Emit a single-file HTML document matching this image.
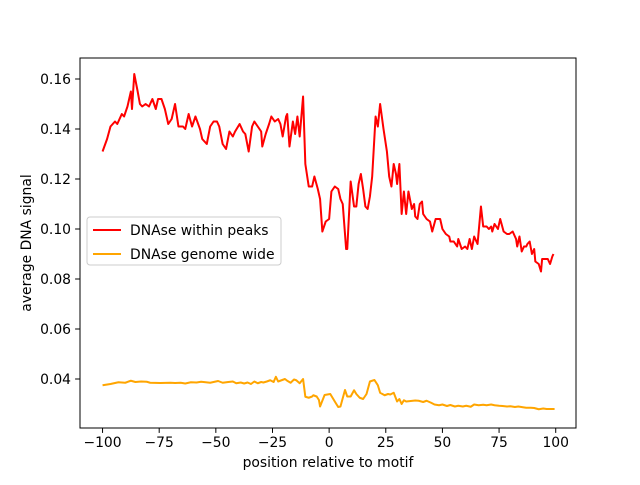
<!DOCTYPE html>
<html><head><meta charset="utf-8"><style>
body{margin:0;background:#fff;}
svg text{font-family:"DejaVu Sans","Liberation Sans",sans-serif;}
</style></head><body>
<svg id="chart" width="640" height="480" xmlns="http://www.w3.org/2000/svg"></svg>
<script>
const redX=[-100,-98,-96.5,-94.5,-93.5,-91.5,-90.5,-89,-87.5,-87,-86,-84.5,-83.5,-82.5,-81,-79.5,-79,-78,-76.5,-75.5,-74,-72.5,-71,-69.5,-68,-66.5,-64.5,-63.5,-62,-60.5,-59,-57,-56,-54,-52.5,-51,-49.5,-48.5,-47,-45.5,-44,-42.5,-41.5,-39.5,-38,-37,-35.5,-34,-33,-31.5,-30,-29.5,-28,-26.5,-25.5,-24,-22.5,-21.5,-20.5,-19,-18.5,-17.5,-16,-15,-14,-13,-11.5,-10.5,-9,-7.5,-6.5,-5,-4,-3,-1.5,0,1,2.5,4,5,6,7.5,8,9.5,11,12,13,14,15,16,17,18,19,20.5,21.5,22.5,24,25.5,26.5,27.5,28.5,29.5,30,31,32,33,34,35,36.5,37.5,38,39,40,41,41.5,43,44.5,45.5,47,49,50,51.5,53,53.5,55,56.5,57,58.5,60,61,62,63,64,65.5,67,68,69.5,70.5,71.5,72,73,74.5,75.5,77,78.5,79.5,81,82.5,83,84,85,86,87,87.5,88.5,89.5,90.5,91,92.5,93.5,94,95.5,96.5,97.5,98.5,99];
const redY=[.131,.136,.141,.143,.142,.146,.145,.149,.155,.148,.162,.155,.150,.149,.150,.149,.150,.152,.148,.152,.152,.148,.142,.144,.150,.141,.141,.140,.146,.141,.145,.140,.136,.134,.141,.143,.143,.141,.134,.132,.139,.137,.139,.142,.139,.138,.131,.141,.143,.141,.139,.133,.138,.142,.145,.143,.144,.142,.137,.145,.146,.133,.143,.138,.145,.137,.153,.126,.117,.117,.121,.116,.112,.099,.103,.104,.115,.117,.116,.112,.110,.092,.092,.119,.109,.109,.118,.122,.116,.109,.108,.113,.121,.145,.141,.150,.140,.131,.121,.117,.126,.122,.118,.126,.106,.115,.106,.115,.108,.110,.105,.104,.110,.111,.106,.104,.103,.099,.104,.104,.100,.098,.097,.095,.095,.093,.096,.092,.093,.092,.096,.092,.097,.094,.109,.101,.101,.100,.101,.099,.102,.100,.104,.099,.098,.098,.099,.096,.093,.097,.091,.093,.093,.094,.095,.090,.092,.087,.086,.083,.088,.088,.088,.086,.089,.090];
const orgX=[-100,-96.5,-93,-90,-87.5,-85.5,-83,-80.5,-79,-74.5,-70,-68,-65.5,-63.5,-61,-58.5,-56.5,-52.5,-50,-49,-47,-44.5,-42.5,-41,-39,-37.5,-36,-34.5,-33,-31.5,-30,-29,-27.5,-26,-24.5,-23.5,-22.5,-21,-19.5,-18.5,-17,-15.5,-14.5,-13,-11.5,-10.5,-9,-7.5,-7,-5.5,-4.5,-4,-2,0.5,2.5,4,5,7,8,9.5,11,12,13.5,15,16.5,18,20,21.5,22.5,24.5,26,27,28.5,30,31,32,33,34,36,38,39.5,41.5,43,45,46.5,48.5,50,52,53.5,55.5,57,59,60.5,62.5,64,66,68,69.5,71.5,73,75,76.5,78.5,80,82,83.5,85.5,87,89,90.5,92.5,94.5,96,98,99.5];
const orgY=[.0375,.038,.0387,.0385,.0393,.0388,.039,.0389,.0385,.0384,.0385,.0384,.0385,.0382,.0387,.0386,.0389,.0385,.039,.0392,.0385,.0388,.039,.0383,.0386,.0382,.0386,.038,.039,.0383,.0388,.0386,.039,.0395,.0388,.0409,.039,.0395,.04,.0393,.0385,.0398,.0395,.0383,.04,.0329,.0325,.033,.0335,.033,.0316,.029,.0336,.034,.031,.0288,.029,.0356,.033,.033,.0355,.034,.0325,.032,.034,.039,.0396,.0375,.0345,.0335,.034,.0338,.0345,.031,.032,.030,.0315,.031,.0312,.0314,.0313,.0308,.0313,.0305,.0298,.0295,.0298,.0292,.0296,.029,.0293,.029,.0293,.0289,.0298,.0295,.0297,.0295,.0298,.0295,.0293,.0292,.029,.0291,.0288,.029,.0287,.0285,.0285,.0284,.0279,.0282,.028,.028,.028];
const xTicks=[-100,-75,-50,-25,0,25,50,75,100];
const yTicks=[0.04,0.06,0.08,0.10,0.12,0.14,0.16];
const xDom=[-109.95,108.95], yDom=[0.0204,0.1684];
const L=80,R=576,T=58,B=428;
const FS=13.9;
const sx=v=>L+(v-xDom[0])/(xDom[1]-xDom[0])*(R-L);
const sy=v=>B-(v-yDom[0])/(yDom[1]-yDom[0])*(B-T);
const svg=document.getElementById('chart');
const NS='http://www.w3.org/2000/svg';
function mk(tag,attrs,parent){const e=document.createElementNS(NS,tag);for(const k in attrs)e.setAttribute(k,attrs[k]);(parent||svg).appendChild(e);return e;}
function series(xs,ys,color,name){
  const d=xs.map((x,i)=>(i?'L':'M')+sx(x).toFixed(2)+','+sy(ys[i]).toFixed(2)).join('');
  const p=mk('path',{d:d,fill:'none',stroke:color,'stroke-width':2,'stroke-linejoin':'round'});
  
  
}
series(redX,redY,'#ff0000','line-dnase-within-peaks');
series(orgX,orgY,'#ffa500','line-dnase-genome-wide');
const frame=mk('rect',{x:L,y:T,width:R-L,height:B-T,fill:'none',stroke:'#000','stroke-width':1});


xTicks.forEach(t=>{
  const x=sx(t);
  const tk=mk('line',{x1:x,x2:x,y1:B,y2:B+4.9,stroke:'#000','stroke-width':1});
  
  
  const tx=mk('text',{x:x,y:B+19,'text-anchor':'middle','font-size':FS});
  tx.textContent=String(t).replace('-','\u2212');
  
  
});
yTicks.forEach(t=>{
  const y=sy(t);
  const tk=mk('line',{x1:L-4.9,x2:L,y1:y,y2:y,stroke:'#000','stroke-width':1});
  
  
  const tx=mk('text',{x:L-9,y:y+5,'text-anchor':'end','font-size':FS});
  tx.textContent=t.toFixed(2);
  
  
});
const xl=mk('text',{x:(L+R)/2,y:467,'text-anchor':'middle','font-size':FS});
xl.textContent='position relative to motif';


const yl=mk('text',{x:0,y:0,'text-anchor':'middle','font-size':FS,transform:'translate(31,243) rotate(-90)'});
yl.textContent='average DNA signal';


const lg=mk('g',{});


mk('rect',{x:87,y:217,width:194,height:48,rx:3,fill:'#fff','fill-opacity':0.8,stroke:'#cccccc','stroke-width':1},lg);
const entries=[['DNAse within peaks','#ff0000',230],['DNAse genome wide','#ffa500',254]];
entries.forEach(en=>{
  const g=mk('g',{},lg);
  
  
  mk('line',{x1:93,x2:121,y1:en[2],y2:en[2],stroke:en[1],'stroke-width':2},g);
  const t=mk('text',{x:130,y:en[2]+5,'font-size':FS},g);
  t.textContent=en[0];
});
</script>
</body></html>
